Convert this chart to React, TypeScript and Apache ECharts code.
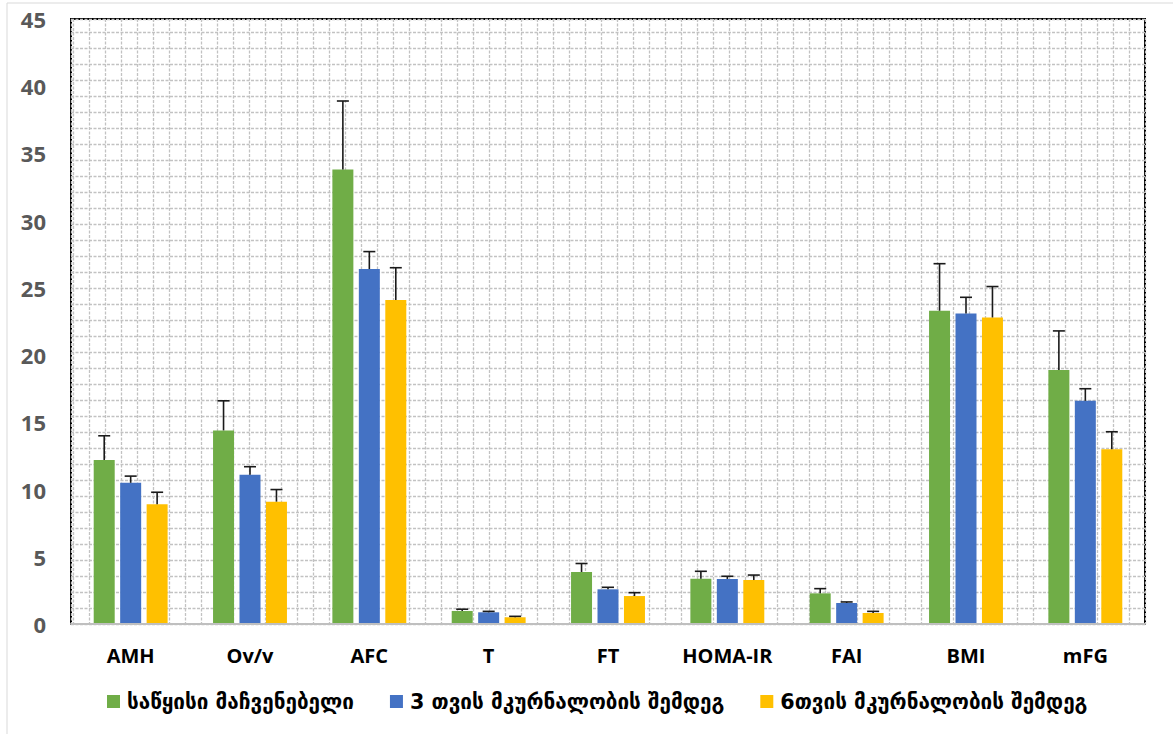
import React, { useEffect, useRef } from "react";
import * as echarts from "echarts";

const categories = ["AMH", "Ov/v", "AFC", "T", "FT", "HOMA-IR", "FAI", "BMI", "mFG"];
const seriesNames = ["საწყისი მაჩვენებელი", "3 თვის მკურნალობის შემდეგ", "6თვის მკურნალობის შემდეგ"];
const baseline = [12.2, 14.4, 33.8, 0.97, 3.87, 3.37, 2.28, 23.3, 18.9];
const month3 = [10.5, 11.1, 26.4, 0.87, 2.58, 3.35, 1.56, 23.1, 16.6];
const month6 = [8.9, 9.1, 24.1, 0.5, 2.08, 3.27, 0.82, 22.8, 13.0];
const baselineSd = [1.8, 2.2, 5.1, 0.13, 0.63, 0.55, 0.35, 3.5, 2.9];
const month3Sd = [0.5, 0.6, 1.3, 0.07, 0.15, 0.2, 0.08, 1.2, 0.9];
const month6Sd = [0.9, 0.9, 2.4, 0.07, 0.25, 0.37, 0.12, 2.3, 1.3];
const yTicks = { min: 0, max: 45, interval: 5 };

const colors = ["#70ad47", "#4472c4", "#ffc000"];
const BAR_W = 21;
const BAR_GAP = 0.26;

export default function App() {
  const ref = useRef<HTMLDivElement>(null);
  useEffect(() => {
    if (!ref.current) return;
    const chart = echarts.init(ref.current, null, { renderer: "svg" });
    const values = [baseline, month3, month6];
    const sds = [baselineSd, month3Sd, month6Sd];
    const offsets = [-1, 0, 1].map((k) => k * BAR_W * (1 + BAR_GAP));

    const barSeries = values.map((vals, i) => ({
      name: seriesNames[i],
      type: "bar",
      xAxisIndex: 0,
      yAxisIndex: 0,
      data: vals,
      barWidth: BAR_W,
      barGap: BAR_GAP * 100 + "%",
      itemStyle: { color: colors[i] },
      z: 3,
    }));

    const errSeries = values.map((vals, i) => ({
      type: "custom",
      name: "err" + i,
      xAxisIndex: 0,
      yAxisIndex: 0,
      z: 4,
      silent: true,
      data: vals.map((v, j) => [j, v, v + sds[i][j]]),
      renderItem: (params: any, api: any) => {
        const idx = api.value(0);
        const p1 = api.coord([idx, api.value(1)]);
        const p2 = api.coord([idx, api.value(2)]);
        const cx = p1[0] + offsets[i];
        const style = { stroke: "#1a1a1a", lineWidth: 1.6 };
        return {
          type: "group",
          children: [
            { type: "line", shape: { x1: cx, y1: p1[1], x2: cx, y2: p2[1] }, style },
            { type: "line", shape: { x1: cx - 6, y1: p2[1], x2: cx + 6, y2: p2[1] }, style },
          ],
        };
      },
    }));

    const patternLine = { show: true, lineStyle: { color: "#c2c2c2", width: 1.3, type: [3, 1.5] as any } };

    chart.setOption({
      animation: false,
      backgroundColor: "#fff",
      graphic: [
        {
          type: "rect",
          z: -10,
          shape: { x: 7, y: 3, width: 1200, height: 800 },
          style: { fill: "none", stroke: "#d9d9d9", lineWidth: 1 },
        },
      ],
      grid: {
        left: 71,
        top: 19,
        right: 28,
        bottom: 110,
        show: true,
        borderColor: "#000",
        borderWidth: 2,
        backgroundColor: "transparent",
      },
      legend: {
        data: seriesNames,
        left: 102,
        top: 686,
        icon: "rect",
        itemWidth: 13,
        itemHeight: 13,
        itemGap: 36,
        textStyle: {
          fontFamily: "DejaVu Sans",
          fontWeight: "bold",
          fontSize: 20.7,
          color: "#000",
          padding: [0, 0, 0, 2],
        },
      },
      xAxis: [
        {
          type: "category",
          data: categories,
          axisTick: { show: false },
          axisLine: { show: true, lineStyle: { color: "#bfbfbf", width: 2 } },
          axisLabel: {
            margin: 21,
            fontFamily: "Open Sans",
            fontWeight: "bold",
            fontSize: 20,
            color: "#000",
          },
          splitLine: { show: false },
          z: 5,
        },
        {
          type: "value",
          inverse: true,
          min: 0,
          max: 1074 / 16,
          interval: 1,
          show: true,
          axisLine: { show: false },
          axisTick: { show: false },
          axisLabel: { show: false },
          splitLine: patternLine,
        },
      ],
      yAxis: [
        {
          type: "value",
          min: yTicks.min,
          max: yTicks.max,
          interval: yTicks.interval,
          axisLine: { show: false },
          axisTick: { show: false },
          splitLine: { show: false },
          axisLabel: {
            margin: 25,
            fontFamily: "Open Sans",
            fontWeight: "bold",
            fontSize: 22,
            color: "#595959",
          },
        },
        {
          type: "value",
          min: 0,
          max: 605 / 16,
          interval: 1,
          axisLine: { show: false },
          axisTick: { show: false },
          axisLabel: { show: false },
          splitLine: patternLine,
        },
      ],
      series: [...barSeries, ...errSeries],
    });
    return () => chart.dispose();
  }, []);
  return (
    <div
      ref={ref}
      style={{ position: "fixed", left: 0, top: 0, width: 1173, height: 734 }}
    />
  );
}
